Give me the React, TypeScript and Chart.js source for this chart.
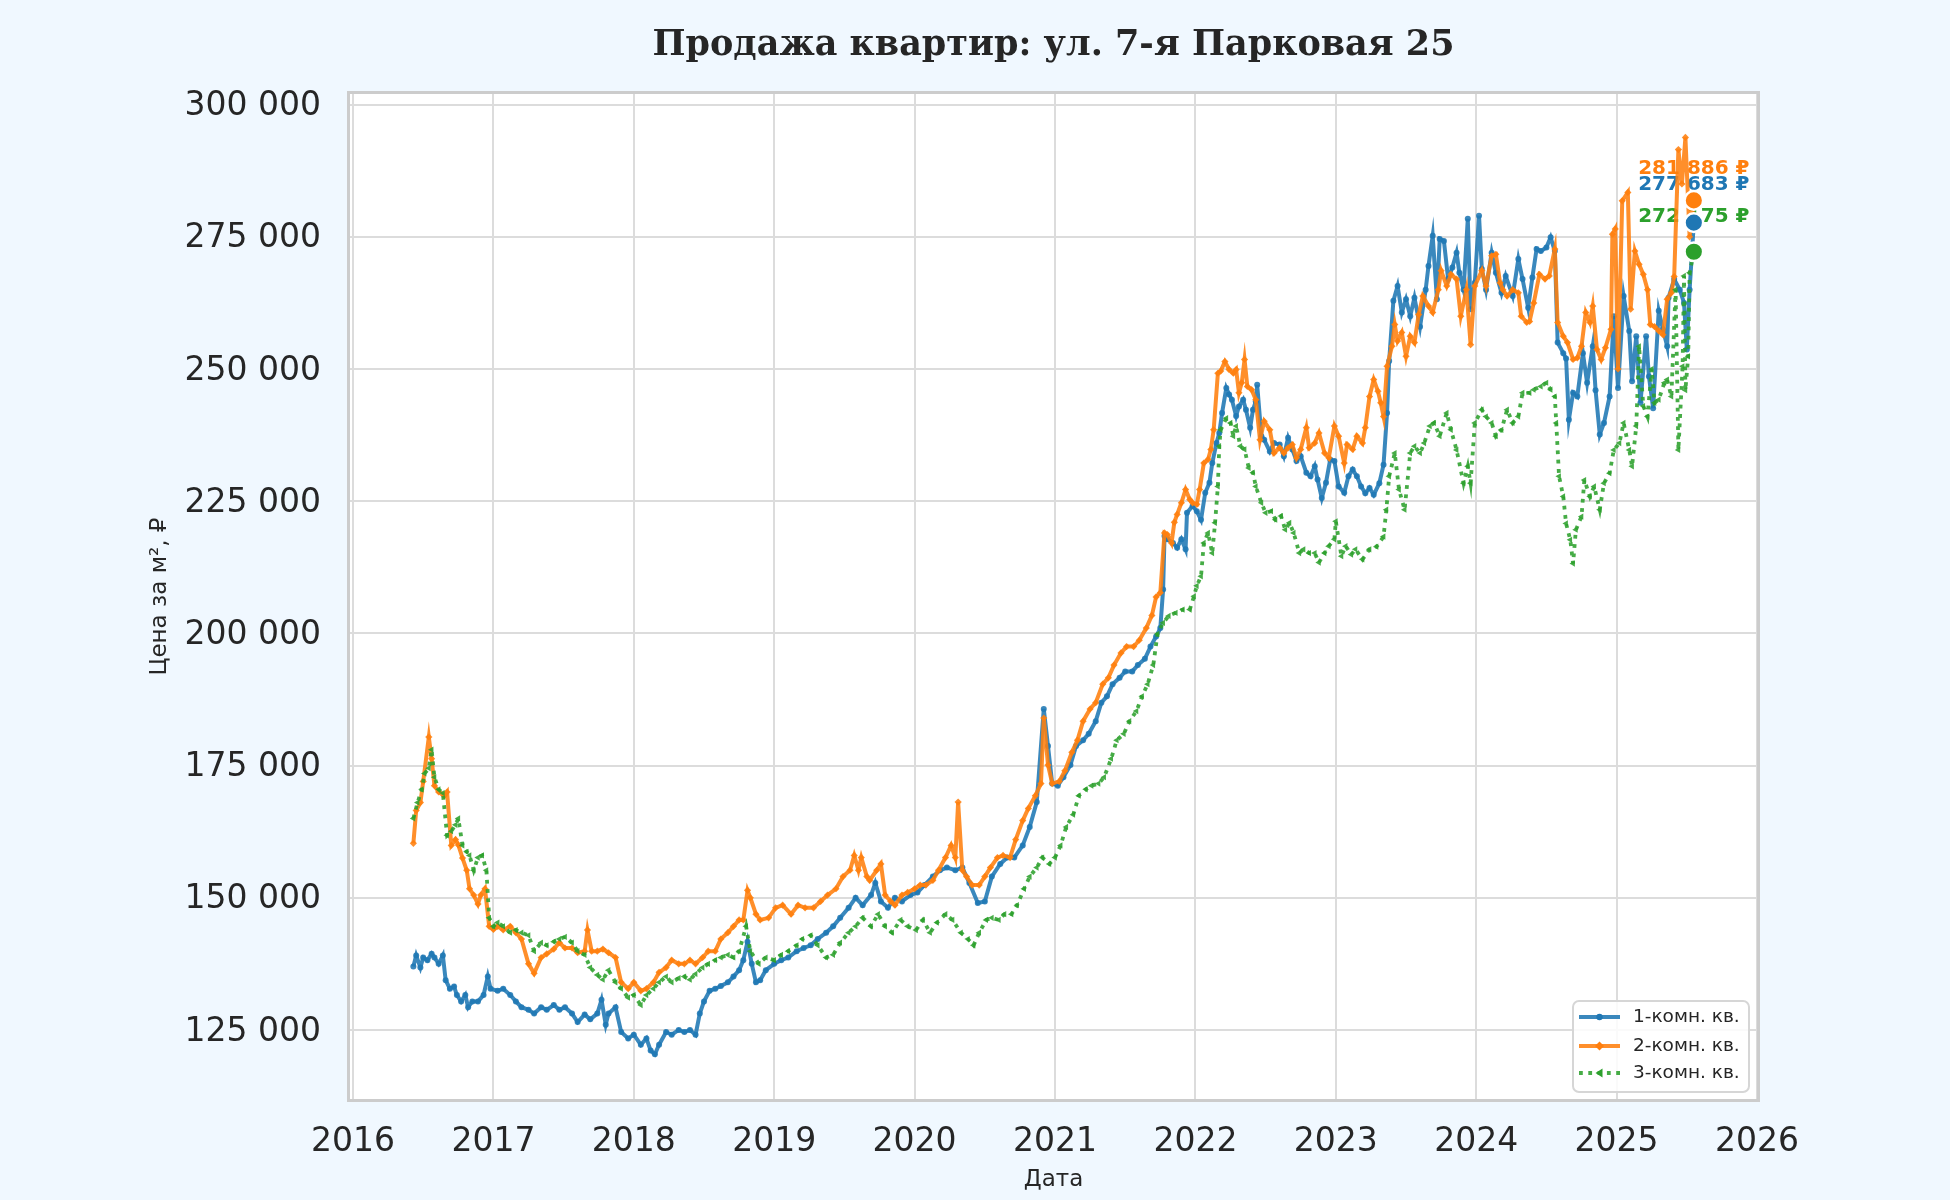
import React, { useEffect, useRef } from "react";
import { Chart, registerables } from "chart.js";

Chart.register(...registerables);

const TITLE = "Продажа квартир: ул. 7-я Парковая 25";
const X_TITLE = "Дата";
const Y_TITLE = "Цена за м², ₽";
const SERIES_NAMES = ["1-комн. кв.", "2-комн. кв.", "3-комн. кв."];
const X_TICKS = [2016, 2017, 2018, 2019, 2020, 2021, 2022, 2023, 2024, 2025, 2026];
const Y_TICKS = [125000, 150000, 175000, 200000, 225000, 250000, 275000, 300000];

// [decimal year, price in thousand ₽ per m²]
const ONE_ROOM: [number, number][] = [
  [2016.43, 137.0], [2016.45, 139.1], [2016.48, 136.8], [2016.5, 138.7], [2016.53, 138.2], [2016.56, 139.4],
  [2016.58, 138.7], [2016.61, 137.5], [2016.64, 139.1], [2016.66, 134.4], [2016.69, 132.8], [2016.72, 133.2],
  [2016.74, 131.6], [2016.77, 130.4], [2016.8, 131.6], [2016.82, 129.3], [2016.85, 130.4], [2016.89, 130.4],
  [2016.93, 131.6], [2016.96, 135.1], [2016.98, 132.8], [2017.03, 132.4], [2017.07, 132.8], [2017.12, 131.6],
  [2017.16, 130.4], [2017.2, 129.3], [2017.25, 128.8], [2017.29, 128.1], [2017.34, 129.3], [2017.38, 128.8],
  [2017.43, 129.7], [2017.47, 128.8], [2017.51, 129.3], [2017.56, 128.1], [2017.6, 126.5], [2017.65, 127.9],
  [2017.69, 127.0], [2017.74, 128.1], [2017.77, 130.7], [2017.8, 126.0], [2017.82, 128.1], [2017.87, 129.3],
  [2017.91, 124.6], [2017.96, 123.4], [2018.0, 124.1], [2018.05, 122.2], [2018.09, 123.4], [2018.12, 121.1],
  [2018.15, 120.4], [2018.18, 122.2], [2018.23, 124.6], [2018.27, 124.1], [2018.32, 125.0], [2018.36, 124.6],
  [2018.4, 125.0], [2018.44, 124.1], [2018.47, 128.1], [2018.5, 130.4], [2018.54, 132.4], [2018.58, 132.8],
  [2018.62, 133.3], [2018.67, 134.0], [2018.71, 135.1], [2018.75, 136.3], [2018.78, 138.2], [2018.81, 141.7],
  [2018.84, 137.5], [2018.87, 134.0], [2018.9, 134.4], [2018.94, 136.3], [2019.0, 137.5], [2019.05, 138.2],
  [2019.1, 138.7], [2019.16, 139.9], [2019.21, 140.5], [2019.26, 141.0], [2019.31, 142.2], [2019.37, 143.4],
  [2019.42, 144.6], [2019.47, 146.2], [2019.53, 148.1], [2019.58, 150.0], [2019.63, 148.6], [2019.69, 150.5],
  [2019.72, 152.8], [2019.76, 149.3], [2019.81, 148.1], [2019.86, 150.0], [2019.91, 149.3], [2019.97, 150.5],
  [2020.02, 151.0], [2020.07, 152.4], [2020.13, 154.0], [2020.18, 155.2], [2020.23, 155.7], [2020.29, 155.2],
  [2020.34, 155.7], [2020.39, 152.8], [2020.45, 149.0], [2020.5, 149.3], [2020.55, 154.0], [2020.61, 156.4],
  [2020.66, 157.6], [2020.71, 157.6], [2020.77, 159.9], [2020.82, 163.4], [2020.87, 168.1], [2020.92, 185.7],
  [2020.95, 178.7], [2020.98, 171.6], [2021.02, 171.2], [2021.06, 172.8], [2021.11, 175.1], [2021.15, 178.7],
  [2021.2, 179.8], [2021.24, 181.0], [2021.29, 183.4], [2021.33, 186.9], [2021.37, 188.1], [2021.41, 190.4],
  [2021.46, 191.6], [2021.5, 192.8], [2021.55, 192.8], [2021.59, 194.0], [2021.64, 195.2], [2021.68, 197.5],
  [2021.72, 199.4], [2021.75, 201.0], [2021.77, 208.3], [2021.78, 218.4], [2021.8, 217.8], [2021.84, 217.1],
  [2021.87, 216.2], [2021.9, 217.8], [2021.93, 215.9], [2021.94, 222.8], [2021.98, 224.1], [2022.01, 223.1],
  [2022.04, 221.5], [2022.07, 226.6], [2022.1, 228.5], [2022.12, 232.2], [2022.15, 236.0], [2022.17, 237.9],
  [2022.19, 241.7], [2022.22, 246.4], [2022.24, 245.2], [2022.26, 244.2], [2022.29, 241.1], [2022.31, 242.9],
  [2022.34, 244.2], [2022.36, 242.3], [2022.39, 238.9], [2022.41, 242.3], [2022.43, 243.9], [2022.44, 247.0],
  [2022.47, 237.3], [2022.49, 236.6], [2022.53, 234.4], [2022.56, 236.0], [2022.6, 235.7], [2022.63, 233.5],
  [2022.66, 237.0], [2022.69, 234.8], [2022.72, 232.6], [2022.75, 233.5], [2022.79, 230.4], [2022.82, 229.7],
  [2022.85, 231.6], [2022.87, 229.1], [2022.9, 225.6], [2022.93, 228.5], [2022.96, 232.9], [2022.99, 232.6],
  [2023.02, 227.8], [2023.06, 226.6], [2023.09, 229.7], [2023.12, 231.0], [2023.15, 229.7], [2023.18, 227.8],
  [2023.21, 226.5], [2023.24, 227.5], [2023.27, 226.2], [2023.31, 228.4], [2023.34, 231.9], [2023.365, 241.7],
  [2023.38, 251.5], [2023.41, 262.9], [2023.44, 265.7], [2023.47, 260.7], [2023.5, 263.2], [2023.53, 260.0],
  [2023.56, 263.5], [2023.6, 258.0], [2023.64, 265.0], [2023.66, 269.5], [2023.69, 275.2], [2023.72, 263.2],
  [2023.74, 274.6], [2023.77, 274.2], [2023.8, 267.0], [2023.83, 269.2], [2023.86, 272.0], [2023.88, 268.2],
  [2023.91, 265.0], [2023.94, 278.4], [2023.96, 261.3], [2023.99, 266.3], [2024.02, 279.0], [2024.04, 268.9],
  [2024.07, 265.0], [2024.11, 272.0], [2024.14, 268.2], [2024.18, 264.4], [2024.21, 267.6], [2024.26, 263.8],
  [2024.3, 270.8], [2024.33, 267.0], [2024.37, 261.6], [2024.4, 267.3], [2024.43, 272.7], [2024.46, 272.3],
  [2024.5, 273.0], [2024.53, 274.9], [2024.56, 272.3], [2024.58, 255.0], [2024.62, 253.0], [2024.64, 252.0],
  [2024.66, 240.4], [2024.69, 245.5], [2024.72, 244.8], [2024.76, 253.0], [2024.79, 247.4], [2024.83, 254.3],
  [2024.85, 246.0], [2024.88, 237.6], [2024.91, 239.8], [2024.95, 244.8], [2024.98, 260.0], [2025.01, 246.4],
  [2025.05, 263.8], [2025.09, 257.2], [2025.11, 247.7], [2025.14, 256.2], [2025.17, 243.6], [2025.21, 256.2],
  [2025.23, 248.6], [2025.26, 242.6], [2025.3, 261.0], [2025.33, 257.5], [2025.36, 254.3], [2025.37, 263.5],
  [2025.41, 267.0], [2025.45, 265.0], [2025.48, 262.5], [2025.5, 253.7], [2025.52, 265.0], [2025.55, 277.683],
];

const TWO_ROOM: [number, number][] = [
  [2016.43, 160.3], [2016.45, 166.5], [2016.48, 168.0], [2016.5, 172.0], [2016.54, 180.4], [2016.56, 176.3],
  [2016.58, 171.2], [2016.61, 170.0], [2016.65, 169.3], [2016.67, 170.0], [2016.7, 159.9], [2016.73, 161.0],
  [2016.75, 160.0], [2016.78, 157.5], [2016.81, 155.2], [2016.83, 151.7], [2016.86, 150.5], [2016.89, 148.8],
  [2016.91, 150.5], [2016.94, 151.7], [2016.97, 144.6], [2017.0, 144.0], [2017.03, 144.6], [2017.07, 143.9],
  [2017.12, 144.6], [2017.16, 143.4], [2017.2, 142.2], [2017.25, 137.5], [2017.29, 135.7], [2017.34, 138.7],
  [2017.38, 139.4], [2017.43, 140.3], [2017.47, 141.5], [2017.51, 140.5], [2017.56, 140.5], [2017.6, 139.6],
  [2017.65, 139.9], [2017.67, 143.9], [2017.7, 139.9], [2017.74, 139.9], [2017.78, 140.3], [2017.82, 139.6],
  [2017.87, 138.7], [2017.91, 134.0], [2017.96, 132.8], [2018.0, 134.0], [2018.05, 132.4], [2018.09, 132.8],
  [2018.14, 134.0], [2018.18, 135.9], [2018.23, 136.8], [2018.27, 138.2], [2018.32, 137.5], [2018.36, 137.5],
  [2018.4, 138.2], [2018.44, 137.5], [2018.49, 138.7], [2018.53, 139.9], [2018.58, 139.9], [2018.62, 142.2],
  [2018.67, 143.4], [2018.71, 144.6], [2018.75, 145.8], [2018.78, 145.8], [2018.81, 151.4], [2018.83, 150.0],
  [2018.87, 146.9], [2018.9, 145.8], [2018.96, 146.2], [2019.01, 148.1], [2019.06, 148.6], [2019.12, 146.9],
  [2019.17, 148.6], [2019.22, 148.1], [2019.28, 148.1], [2019.33, 149.3], [2019.38, 150.5], [2019.44, 151.7],
  [2019.49, 154.0], [2019.54, 155.2], [2019.57, 158.0], [2019.6, 155.2], [2019.62, 157.6], [2019.66, 154.0],
  [2019.68, 153.3], [2019.73, 155.2], [2019.76, 156.4], [2019.79, 150.5], [2019.83, 149.3], [2019.86, 148.6],
  [2019.91, 150.5], [2019.95, 151.0], [2020.0, 151.7], [2020.04, 152.4], [2020.08, 152.4], [2020.13, 153.3],
  [2020.17, 155.2], [2020.22, 157.6], [2020.26, 159.9], [2020.29, 157.6], [2020.31, 168.1], [2020.34, 155.2],
  [2020.37, 154.0], [2020.41, 152.4], [2020.46, 152.4], [2020.5, 154.0], [2020.54, 155.7], [2020.59, 157.6],
  [2020.63, 158.0], [2020.68, 157.6], [2020.72, 161.0], [2020.77, 164.6], [2020.81, 166.9], [2020.86, 169.3],
  [2020.9, 171.6], [2020.92, 184.0], [2020.95, 175.1], [2020.98, 171.6], [2021.03, 172.0], [2021.07, 174.0],
  [2021.12, 177.5], [2021.16, 179.8], [2021.2, 183.4], [2021.25, 185.7], [2021.29, 186.9], [2021.34, 190.4],
  [2021.38, 191.6], [2021.42, 194.0], [2021.47, 196.3], [2021.51, 197.5], [2021.56, 197.5], [2021.6, 198.7],
  [2021.65, 201.0], [2021.69, 203.4], [2021.72, 206.9], [2021.75, 207.7], [2021.78, 219.0], [2021.8, 218.7],
  [2021.83, 217.1], [2021.85, 221.0], [2021.87, 222.5], [2021.9, 224.7], [2021.93, 227.2], [2021.96, 225.3],
  [2021.98, 224.7], [2022.01, 224.4], [2022.03, 227.2], [2022.06, 232.2], [2022.09, 232.9], [2022.11, 234.8],
  [2022.13, 238.5], [2022.16, 249.2], [2022.18, 249.6], [2022.21, 251.4], [2022.24, 249.9], [2022.27, 249.2],
  [2022.29, 249.9], [2022.31, 245.5], [2022.33, 247.4], [2022.35, 251.8], [2022.37, 246.7], [2022.4, 246.1],
  [2022.43, 244.2], [2022.46, 236.6], [2022.49, 240.1], [2022.53, 238.5], [2022.56, 234.1], [2022.6, 235.1],
  [2022.63, 234.1], [2022.66, 235.1], [2022.69, 235.7], [2022.72, 233.2], [2022.75, 234.8], [2022.79, 238.9],
  [2022.81, 235.1], [2022.85, 236.0], [2022.88, 237.9], [2022.92, 234.1], [2022.95, 233.2], [2022.99, 239.2],
  [2023.02, 237.3], [2023.06, 232.2], [2023.08, 235.7], [2023.12, 234.8], [2023.15, 237.3], [2023.19, 236.0],
  [2023.21, 238.9], [2023.24, 244.8], [2023.27, 248.0], [2023.3, 245.8], [2023.32, 243.6], [2023.34, 241.0],
  [2023.365, 250.5], [2023.4, 254.3], [2023.42, 258.4], [2023.44, 255.3], [2023.47, 256.9], [2023.5, 252.4],
  [2023.53, 256.2], [2023.56, 255.0], [2023.59, 260.3], [2023.62, 263.8], [2023.66, 261.9], [2023.69, 260.7],
  [2023.73, 265.0], [2023.75, 268.6], [2023.79, 265.7], [2023.82, 267.9], [2023.86, 267.0], [2023.89, 260.0],
  [2023.93, 265.0], [2023.96, 254.6], [2023.99, 265.7], [2024.04, 268.6], [2024.07, 265.7], [2024.11, 271.4],
  [2024.14, 271.7], [2024.17, 266.3], [2024.19, 265.0], [2024.22, 263.8], [2024.26, 265.0], [2024.3, 264.4],
  [2024.32, 260.0], [2024.36, 258.8], [2024.38, 259.0], [2024.41, 262.5], [2024.45, 267.9], [2024.49, 267.0],
  [2024.52, 267.6], [2024.56, 272.7], [2024.58, 258.8], [2024.62, 256.2], [2024.65, 255.0], [2024.69, 251.8],
  [2024.72, 252.1], [2024.75, 254.3], [2024.78, 260.7], [2024.81, 258.8], [2024.83, 261.9], [2024.86, 253.7],
  [2024.89, 251.8], [2024.92, 254.0], [2024.96, 257.5], [2024.97, 275.5], [2024.99, 276.5], [2025.01, 250.0],
  [2025.04, 281.8], [2025.08, 283.4], [2025.1, 261.3], [2025.13, 272.3], [2025.16, 269.8], [2025.19, 267.9],
  [2025.22, 265.0], [2025.24, 258.4], [2025.27, 258.0], [2025.3, 257.2], [2025.33, 256.5], [2025.36, 263.2],
  [2025.39, 264.4], [2025.41, 267.5], [2025.44, 291.5], [2025.465, 285.0], [2025.49, 293.8], [2025.52, 275.0],
  [2025.55, 281.886],
];

const THREE_ROOM: [number, number][] = [
  [2016.43, 165.0], [2016.46, 168.0], [2016.49, 170.5], [2016.51, 173.5], [2016.54, 174.5], [2016.56, 178.0],
  [2016.58, 172.8], [2016.61, 170.5], [2016.64, 169.8], [2016.67, 161.8], [2016.7, 162.6], [2016.73, 163.8],
  [2016.75, 165.0], [2016.78, 159.9], [2016.81, 158.7], [2016.83, 158.0], [2016.86, 155.2], [2016.89, 157.6],
  [2016.92, 158.0], [2016.95, 155.2], [2016.97, 146.2], [2017.0, 144.6], [2017.03, 145.3], [2017.07, 144.6],
  [2017.12, 143.4], [2017.16, 143.9], [2017.2, 143.4], [2017.25, 142.9], [2017.29, 139.9], [2017.34, 141.5],
  [2017.38, 141.0], [2017.43, 141.7], [2017.47, 142.2], [2017.51, 142.6], [2017.56, 141.5], [2017.6, 139.9],
  [2017.65, 139.2], [2017.69, 136.8], [2017.74, 135.4], [2017.78, 134.5], [2017.82, 136.3], [2017.87, 134.0],
  [2017.91, 132.8], [2017.96, 131.1], [2018.0, 131.6], [2018.05, 129.7], [2018.09, 131.6], [2018.14, 132.8],
  [2018.18, 134.0], [2018.23, 135.1], [2018.27, 134.0], [2018.32, 134.8], [2018.36, 135.1], [2018.4, 134.5],
  [2018.44, 135.6], [2018.49, 136.8], [2018.53, 137.5], [2018.58, 138.2], [2018.62, 138.7], [2018.67, 139.2],
  [2018.71, 138.7], [2018.75, 139.9], [2018.8, 144.6], [2018.83, 139.9], [2018.89, 137.5], [2018.94, 138.7],
  [2019.0, 138.2], [2019.05, 139.2], [2019.1, 139.9], [2019.16, 141.0], [2019.2, 142.2], [2019.26, 142.9],
  [2019.31, 141.0], [2019.37, 138.7], [2019.42, 139.2], [2019.47, 141.5], [2019.53, 143.4], [2019.58, 144.6],
  [2019.63, 146.2], [2019.69, 144.6], [2019.74, 146.9], [2019.79, 144.6], [2019.84, 143.4], [2019.9, 145.8],
  [2019.95, 144.6], [2020.01, 143.9], [2020.06, 145.8], [2020.11, 143.4], [2020.16, 145.3], [2020.22, 146.9],
  [2020.27, 145.8], [2020.33, 143.4], [2020.38, 142.2], [2020.42, 141.0], [2020.46, 143.4], [2020.51, 145.8],
  [2020.55, 146.2], [2020.6, 145.8], [2020.64, 146.9], [2020.69, 146.9], [2020.73, 148.6], [2020.78, 151.7],
  [2020.82, 154.0], [2020.87, 155.7], [2020.91, 157.6], [2020.96, 156.4], [2021.0, 157.6], [2021.04, 159.9],
  [2021.08, 163.4], [2021.13, 165.7], [2021.17, 169.3], [2021.22, 170.5], [2021.26, 171.2], [2021.31, 171.6],
  [2021.35, 172.8], [2021.4, 176.3], [2021.44, 179.8], [2021.49, 181.0], [2021.53, 183.4], [2021.58, 185.3],
  [2021.62, 188.1], [2021.66, 190.4], [2021.7, 194.0], [2021.73, 199.9], [2021.77, 202.0], [2021.81, 203.3],
  [2021.86, 203.9], [2021.91, 204.5], [2021.96, 204.5], [2021.99, 207.0], [2022.01, 209.0], [2022.04, 210.8],
  [2022.06, 217.1], [2022.09, 219.0], [2022.12, 215.2], [2022.14, 220.9], [2022.16, 227.8], [2022.17, 235.4],
  [2022.18, 238.5], [2022.22, 240.7], [2022.25, 239.8], [2022.27, 237.3], [2022.29, 239.2], [2022.32, 235.4],
  [2022.35, 234.8], [2022.38, 231.3], [2022.41, 230.4], [2022.43, 227.8], [2022.47, 224.7], [2022.5, 222.8],
  [2022.54, 223.1], [2022.57, 221.5], [2022.61, 222.2], [2022.64, 219.6], [2022.67, 220.9], [2022.7, 219.0],
  [2022.74, 215.2], [2022.77, 215.9], [2022.81, 215.2], [2022.85, 215.2], [2022.88, 213.4], [2022.92, 215.2],
  [2022.95, 216.5], [2022.99, 217.8], [2023.0, 221.2], [2023.04, 214.6], [2023.07, 216.5], [2023.11, 214.9],
  [2023.14, 215.9], [2023.19, 214.0], [2023.24, 215.9], [2023.29, 216.4], [2023.34, 218.3], [2023.36, 223.4],
  [2023.38, 229.7], [2023.42, 234.1], [2023.45, 227.2], [2023.49, 223.4], [2023.53, 234.1], [2023.56, 235.4],
  [2023.6, 234.1], [2023.63, 236.0], [2023.67, 239.2], [2023.7, 239.8], [2023.74, 237.3], [2023.79, 241.7],
  [2023.82, 238.5], [2023.86, 234.7], [2023.91, 228.4], [2023.94, 231.6], [2023.96, 228.4], [2023.99, 239.8],
  [2024.04, 242.3], [2024.07, 241.0], [2024.11, 239.8], [2024.14, 237.3], [2024.18, 238.5], [2024.22, 242.3],
  [2024.26, 239.8], [2024.3, 241.0], [2024.33, 245.5], [2024.38, 245.5], [2024.41, 246.1], [2024.46, 246.7],
  [2024.5, 247.4], [2024.53, 246.1], [2024.56, 244.8], [2024.57, 239.8], [2024.59, 229.7], [2024.62, 225.9],
  [2024.64, 220.8], [2024.67, 217.7], [2024.69, 213.2], [2024.71, 219.6], [2024.75, 222.1], [2024.77, 229.0],
  [2024.81, 225.9], [2024.84, 227.8], [2024.88, 223.4], [2024.91, 228.4], [2024.95, 230.3], [2024.98, 234.7],
  [2025.02, 236.0], [2025.05, 239.8], [2025.09, 234.7], [2025.11, 231.6], [2025.14, 239.2], [2025.16, 254.3],
  [2025.19, 243.0], [2025.22, 241.0], [2025.25, 250.0], [2025.27, 243.6], [2025.3, 244.2], [2025.34, 247.4],
  [2025.36, 248.0], [2025.39, 244.8], [2025.42, 265.0], [2025.44, 234.7], [2025.47, 250.5], [2025.48, 267.6],
  [2025.49, 246.0], [2025.51, 252.4], [2025.52, 268.2], [2025.55, 272.175],
];

const SERIES = [ONE_ROOM, TWO_ROOM, THREE_ROOM];
const COLORS = ["#1f77b4", "#ff7f0e", "#2ca02c"];
const LINE_COLORS = ["rgba(31,119,180,0.88)", "rgba(255,127,14,0.88)", "rgba(44,160,44,0.88)"];
const LABEL_OFFSETS = [38, 32, 35];

const fmtSpaces = (v: number) => String(Math.round(v)).replace(/\B(?=(\d{3})+(?!\d))/g, " ");

const decorPlugin = {
  id: "decor",
  beforeDraw(chart: any) {
    const { ctx, chartArea: a, width, height } = chart;
    ctx.save();
    ctx.fillStyle = "#f0f8ff";
    ctx.fillRect(0, 0, width, height);
    ctx.fillStyle = "#ffffff";
    ctx.fillRect(a.left, a.top, a.right - a.left, a.bottom - a.top);
    ctx.restore();
  },
  beforeDatasetsDraw(chart: any) {
    const { ctx } = chart;
    ctx.save();
    ctx.font = "bold 20px 'DejaVu Sans'";
    ctx.textAlign = "center";
    ctx.textBaseline = "middle";
    SERIES.forEach((s, i) => {
      const meta = chart.getDatasetMeta(i);
      const pt = meta.data[meta.data.length - 1];
      const v = s[s.length - 1][1] * 1000;
      ctx.fillStyle = COLORS[i];
      ctx.fillText(fmtSpaces(v) + " ₽", pt.x, pt.y - LABEL_OFFSETS[i]);
    });
    ctx.restore();
  },
  afterDatasetsDraw(chart: any) {
    const { ctx, chartArea: a } = chart;
    ctx.save();
    [1, 0, 2].forEach((i) => {
      const meta = chart.getDatasetMeta(i);
      const pt = meta.data[meta.data.length - 1];
      ctx.beginPath();
      ctx.arc(pt.x, pt.y, 9.3, 0, Math.PI * 2);
      ctx.fillStyle = COLORS[i];
      ctx.fill();
      ctx.lineWidth = 2.5;
      ctx.strokeStyle = "#ffffff";
      ctx.stroke();
    });
    // frame
    ctx.strokeStyle = "#cccccc";
    ctx.lineWidth = 3;
    ctx.strokeRect(a.left - 0.5, a.top - 0.5, a.right - a.left + 1, a.bottom - a.top + 1);
    ctx.restore();
  },
  afterDraw(chart: any) {
    const { ctx, chartArea: a } = chart;
    const cx = (a.left + a.right) / 2;
    ctx.save();
    ctx.fillStyle = "#262626";
    ctx.textAlign = "center";
    ctx.textBaseline = "middle";
    ctx.font = "bold 35px 'DejaVu Serif'";
    ctx.fillText(TITLE, cx, 46);
    ctx.font = "23px 'DejaVu Sans'";
    ctx.fillText(X_TITLE, cx, 1180);
    ctx.save();
    ctx.translate(160, (a.top + a.bottom) / 2);
    ctx.rotate(-Math.PI / 2);
    ctx.fillText(Y_TITLE, 0, 0);
    ctx.restore();

    // legend
    const lx = 1573, ly = 1001, lw = 176, lh = 91;
    ctx.beginPath();
    ctx.roundRect(lx, ly, lw, lh, 6);
    ctx.fillStyle = "rgba(255,255,255,0.85)";
    ctx.fill();
    ctx.strokeStyle = "#d6d6d6";
    ctx.lineWidth = 2;
    ctx.stroke();
    const rows = [1017, 1046, 1073];
    SERIES_NAMES.forEach((name, i) => {
      const y = rows[i];
      ctx.save();
      ctx.strokeStyle = LINE_COLORS[i];
      ctx.lineWidth = 3.8;
      if (i === 2) ctx.setLineDash([3.8, 5.5]);
      ctx.beginPath();
      ctx.moveTo(1579, y);
      ctx.lineTo(1620, y);
      ctx.stroke();
      ctx.restore();
      ctx.fillStyle = COLORS[i];
      ctx.beginPath();
      if (i === 0) ctx.arc(1599.5, y, 3.2, 0, Math.PI * 2);
      else if (i === 1) { ctx.moveTo(1599.5, y - 4.5); ctx.lineTo(1604, y); ctx.lineTo(1599.5, y + 4.5); ctx.lineTo(1595, y); }
      else { ctx.moveTo(1595.5, y); ctx.lineTo(1602.5, y - 4.5); ctx.lineTo(1602.5, y + 4.5); }
      ctx.closePath();
      ctx.fill();
      ctx.fillStyle = "#262626";
      ctx.textAlign = "left";
      ctx.font = "18.5px 'DejaVu Sans'";
      ctx.fillText(name, 1633, y);
    });
    ctx.restore();
  },
};

export default function App() {
  const ref = useRef<HTMLCanvasElement>(null);
  useEffect(() => {
    document.body.style.margin = "0";
    const datasets = SERIES.map((s, i) => ({
      label: SERIES_NAMES[i],
      data: s.map(([x, k]) => ({ x, y: Math.round(k * 1000) })),
      borderColor: LINE_COLORS[i],
      backgroundColor: LINE_COLORS[i],
      borderWidth: i === 2 ? 3.8 : 4,
      borderDash: i === 2 ? [3.8, 5.5] : [],
      pointRadius: i === 0 ? 3 : 3.6,
      pointStyle: i === 0 ? "circle" : i === 1 ? "rectRot" : "triangle",
      rotation: i === 2 ? -90 : 0,
      pointBorderWidth: 0,
      pointBackgroundColor: LINE_COLORS[i],
      tension: 0,
      fill: false,
      order: 3 - i,
    }));
    const chart = new Chart(ref.current as HTMLCanvasElement, {
      type: "line",
      data: { datasets } as any,
      plugins: [decorPlugin],
      options: {
        responsive: false,
        animation: false,
        devicePixelRatio: 1,
        layout: { padding: { left: 0, right: 192, top: 93, bottom: 0 } },
        plugins: {
          legend: { display: false },
          title: { display: false },
          tooltip: { enabled: false },
        },
        scales: {
          x: {
            type: "linear",
            min: 2015.9715,
            max: 2026.007,
            afterBuildTicks: (axis: any) => {
              axis.ticks = X_TICKS.map((v) => ({ value: v }));
            },
            afterFit: (axis: any) => {
              axis.height = 100;
            },
            ticks: {
              callback: (v: any) => String(v),
              font: { family: "DejaVu Sans", size: 33 },
              color: "#262626",
              padding: 23,
              maxRotation: 0,
              autoSkip: false,
            },
            grid: { color: "#dcdcdc", lineWidth: 2, drawTicks: false },
            border: { display: false },
          },
          y: {
            type: "linear",
            min: 111750,
            max: 302200,
            afterBuildTicks: (axis: any) => {
              axis.ticks = Y_TICKS.map((v) => ({ value: v }));
            },
            afterFit: (axis: any) => {
              axis.width = 349;
            },
            ticks: {
              callback: (v: any) => fmtSpaces(Number(v)),
              font: { family: "DejaVu Sans", size: 33 },
              color: "#262626",
              padding: 28,
              labelOffset: 2,
              autoSkip: false,
            },
            grid: { color: "#dcdcdc", lineWidth: 2, drawTicks: false },
            border: { display: false },
          },
        },
      } as any,
    });
    return () => chart.destroy();
  }, []);
  return (
    <div style={{ position: "absolute", left: 0, top: 0, width: 1950, height: 1200, background: "#f0f8ff" }}>
      <canvas ref={ref} width={1950} height={1200} style={{ display: "block", width: 1950, height: 1200 }} />
    </div>
  );
}
